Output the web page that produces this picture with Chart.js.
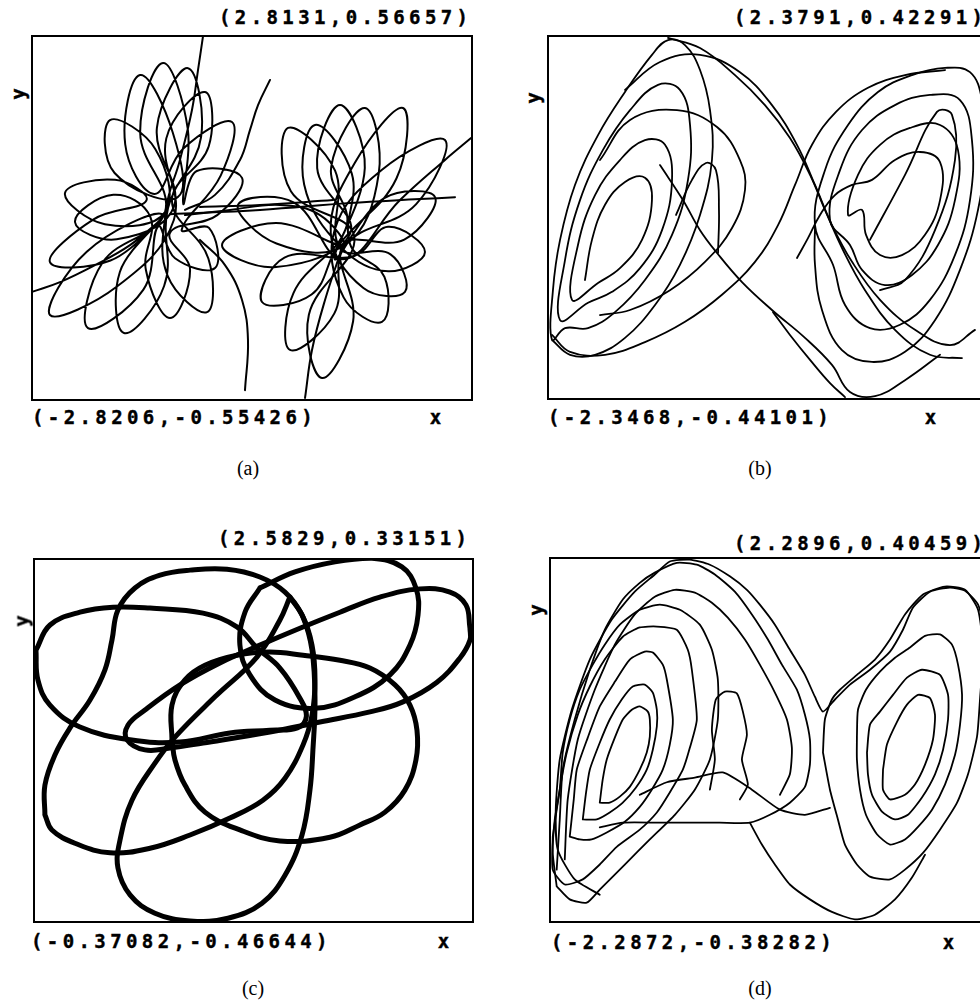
<!DOCTYPE html>
<html>
<head>
<meta charset="utf-8">
<script src="https://cdn.jsdelivr.net/npm/chart.js@4.4.1/dist/chart.umd.min.js"></script>
<style>
  html, body { margin: 0; padding: 0; background: #fff; }
  body { position: relative; width: 980px; height: 1002px; overflow: hidden; }
  canvas { position: absolute; }
  .corner, .axis {
    position: absolute; color: #000; white-space: nowrap;
    font: bold 19px "DejaVu Sans Mono", "Liberation Mono", monospace;
    line-height: 20px;
    -webkit-text-stroke: 0.4px #000;
  }
  .corner { letter-spacing: 4.4px; }
  .axis { width: 13px; text-align: center; }
  .ylab { transform: rotate(-90deg); }
  .cap {
    position: absolute; width: 40px; text-align: center; color: #000;
    font: 20px "Liberation Serif", "Times New Roman", serif; line-height: 20px;
  }
</style>
</head>
<body>

<canvas id="chartA" width="442" height="366" style="left:31px;top:35px"></canvas>
<canvas id="chartB" width="441" height="365" style="left:547px;top:35px"></canvas>
<canvas id="chartC" width="441" height="365" style="left:33px;top:558px"></canvas>
<canvas id="chartD" width="439" height="366" style="left:549px;top:557px"></canvas>

<div class="corner" id="topA" style="left:219px;top:7px"></div>
<div class="corner" id="botA" style="left:32px;top:407px"></div>
<div class="axis" style="left:429px;top:407px">x</div>
<div class="axis ylab" style="left:11px;top:84px">y</div>
<div class="cap" style="left:228px;top:458px">(a)</div>

<div class="corner" id="topB" style="left:734px;top:7px"></div>
<div class="corner" id="botB" style="left:548px;top:407px"></div>
<div class="axis" style="left:924px;top:407px">x</div>
<div class="axis ylab" style="left:526px;top:88px">y</div>
<div class="cap" style="left:740px;top:458px">(b)</div>

<div class="corner" id="topC" style="left:218px;top:528px"></div>
<div class="corner" id="botC" style="left:31px;top:931px"></div>
<div class="axis" style="left:437px;top:931px">x</div>
<div class="axis ylab" style="left:15px;top:611px">y</div>
<div class="cap" style="left:233px;top:978px">(c)</div>

<div class="corner" id="topD" style="left:734px;top:533px"></div>
<div class="corner" id="botD" style="left:551px;top:932px"></div>
<div class="axis" style="left:942px;top:932px">x</div>
<div class="axis ylab" style="left:529px;top:600px">y</div>
<div class="cap" style="left:740px;top:978px">(d)</div>

<script>
// axis extents: [xMin, xMax, yMin, yMax]
const rangeA = [-2.8206, 2.8131, -0.55426, 0.56657];
const rangeB = [-2.3468, 2.3791, -0.44101, 0.42291];
const rangeC = [-0.37082, 2.5829, -0.46644, 0.33151];
const rangeD = [-2.2872, 2.2896, -0.38282, 0.40459];

// (a) petal orbit around the left centre
const aLeftCluster = [
  [-2.808,-0.220],[-2.451,-0.190],[-2.005,-0.138],[-1.559,-0.077],[-1.176,0],
  [-1.808,-0.124],[-2.579,-0.129],[-2.023,0.002],[-1.350,0.060],
  [-1.749,0.123],[-2.387,0.083],[-1.879,-0.013],[-1.113,0.024],
  [-1.235,0.217],[-1.814,0.306],[-1.755,0.144],[-0.950,0.070],
  [-1.013,0.267],[-1.431,0.444],[-1.620,0.232],[-1.250,0.080],
  [-0.879,0.219],[-0.259,0.300],[-0.403,0.136],[-0.900,-0.030],
  [-0.552,-0.024],[-0.475,-0.147],[-0.985,-0.117],[-1.200,-0.020],
  [-1.388,-0.213],[-2.094,-0.331],[-1.908,-0.130],[-1.113,0.024],
  [-1.429,0.267],[-1.138,0.481],[-0.822,0.278],[-0.880,0.050],
  [-0.708,0.150],[-0.131,0.129],[-0.447,0.015],[-1.050,-0.040],
  [-0.793,-0.153],[-1.049,-0.300],[-1.356,-0.153],[-1.300,0.010],
  [-1.772,0.077],[-2.260,-0.006],[-1.728,-0.059],[-1.000,0.040],
  [-1.216,0.282],[-0.820,0.465],[-0.653,0.254],[-1.074,0.037],
  [-1.124,-0.202],[-1.635,-0.346],[-1.688,-0.159],[-1.151,0.018],
  [-2.110,-0.097],[-2.579,-0.291],[-1.721,-0.203],[-1.000,0.000],
  [-1.096,0.250],[-0.603,0.392],[-0.556,0.225],[-1.024,0.060],
  [-0.560,-0.118],[-0.577,-0.282],[-1.080,-0.170],[-1.100,0.031],
  [-0.922,0.184],[-0.769,0.337],[-0.692,0.459],[-0.628,0.563]
];
// (a) petal orbit around the right centre
const aRightCluster = [
  [-0.858,0.015],[-0.284,0.031],[0.353,0.046],[0.863,0.015],[1.156,-0.077],
  [0.302,-0.009],[-0.386,-0.077],[0.302,-0.144],[1.250,-0.040],
  [0.827,0.159],[1.118,0.352],[1.434,0.159],[1.050,-0.120],
  [1.676,0.066],[2.329,0.070],[1.937,-0.060],[1.156,-0.077],
  [1.285,-0.310],[0.888,-0.484],[0.721,-0.290],[1.300,-0.050],
  [0.492,0.088],[0.455,0.282],[1.055,0.151],[1.118,-0.086],
  [1.762,-0.105],[1.946,-0.220],[1.416,-0.208],[1.000,-0.040],
  [1.317,0.179],[1.921,0.343],[1.837,0.127],[1.092,-0.080],
  [0.755,-0.228],[0.124,-0.251],[0.410,-0.115],[1.300,-0.110],
  [1.730,-0.021],[2.201,-0.098],[1.730,-0.157],[1.143,-0.086],
  [0.661,0.109],[0.799,0.291],[1.268,0.142],[1.245,-0.073],
  [1.684,-0.174],[1.653,-0.312],[1.164,-0.237],[1.050,-0.030],
  [1.653,0.154],[2.456,0.245],[2.086,0.048],[1.182,-0.080],
  [1.046,-0.286],[0.481,-0.398],[0.526,-0.223],[1.200,-0.020],
  [1.006,0.163],[1.436,0.343],[1.612,0.143],[1.182,-0.077],
  [0.308,-0.072],[-0.182,0.046],[0.526,0.054],[1.156,-0.120],
  [1.883,0.061],[2.456,0.184],[2.788,0.251]
];
const aStubTop = [[0.226,0.429],[0.073,0.352],[-0.029,0.276],[-0.157,0.184],[-0.475,0.077],[-0.858,0.031]];
const aLongLine = [[-1.049,0.018],[0.098,0.031],[1.245,0.052],[2.138,0.064],[2.584,0.070]];
const aDropLeft = [[-0.667,-0.061],[-0.348,-0.138],[-0.131,-0.245],[-0.055,-0.367],[-0.093,-0.521]];
const aDropRight = [[1.156,-0.077],[0.927,-0.245],[0.761,-0.398],[0.672,-0.545]];
const aBridge = [[-0.667,0.040],[0.098,0.046],[1.029,0.061]];

// (b) left scroll, inner loop outwards
const bLeftLoops = [
  [-1.940,-0.157],[-1.865,-0.062],[-1.725,0.021],[-1.511,0.075],[-1.297,0.085],[-1.222,0.032],[-1.329,-0.062],[-1.565,-0.129],[-1.800,-0.164],
  [-2.079,-0.204],[-2.015,-0.074],[-1.832,0.044],[-1.565,0.127],[-1.297,0.174],[-1.082,0.163],[-1.007,0.080],[-1.114,-0.039],[-1.350,-0.129],[-1.650,-0.185],[-1.907,-0.211],
  [-2.207,-0.252],[-2.154,-0.110],[-1.993,0.032],[-1.747,0.151],[-1.457,0.245],[-1.157,0.305],[-0.922,0.293],[-0.814,0.210],[-0.836,0.080],[-1.007,-0.050],[-1.297,-0.157],[-1.618,-0.233],[-1.907,-0.271],[-2.154,-0.271],
  [-2.293,-0.299],[-2.283,-0.181],[-2.207,-0.062],[-2.047,0.068],[-1.800,0.186],[-1.511,0.288],[-1.222,0.376],[-1.050,0.411],[-0.868,0.399],[-0.707,0.340],[-0.600,0.245],[-0.579,0.127],[-0.707,-0.003],[-0.922,-0.121],[-1.189,-0.216],[-1.511,-0.294],[-1.832,-0.334],[-2.100,-0.334],[-2.293,-0.299]
];
const bBulge = [[-1.779,0.127],[-1.457,0.222],[-0.954,0.245],[-0.525,0.205],[-0.279,0.127],[-0.225,0.056],[-0.364,-0.034],[-0.654,-0.114],[-1.029,-0.181],[-1.457,-0.228],[-1.779,-0.240]];
// (b) right scroll, from the starting stub outwards
const bRightLoops = [
  [0.332,-0.105],[0.450,-0.058],[0.579,-0.003],[0.739,0.044],[0.922,0.068],
  [1.136,0.080],[1.382,0.127],[1.650,0.146],[1.865,0.122],[1.865,0.032],[1.704,-0.050],[1.457,-0.098],[1.222,-0.098],[1.072,-0.050],[1.029,0.009],
  [0.879,-0.003],[0.986,0.092],[1.222,0.163],[1.543,0.203],[1.865,0.210],[2.057,0.151],[2.025,0.032],[1.843,-0.074],[1.565,-0.145],[1.275,-0.169],[1.029,-0.133],[0.900,-0.074],
  [0.686,-0.015],[0.793,0.103],[1.029,0.198],[1.382,0.257],[1.757,0.281],[2.079,0.269],[2.207,0.174],[2.186,0.032],[2.025,-0.098],[1.757,-0.204],[1.436,-0.263],[1.114,-0.271],[0.847,-0.216],[0.718,-0.121],
  [0.525,-0.027],[0.632,0.103],[0.879,0.210],[1.200,0.288],[1.565,0.328],[1.918,0.345],[2.186,0.335],[2.315,0.269],[2.347,0.151],[2.272,0.009],[2.079,-0.133],[1.811,-0.252],[1.490,-0.327],[1.136,-0.351],[0.814,-0.323],[0.600,-0.228],[0.525,-0.121],[0.525,-0.027]
];
const bCrossTop = [[-1.050,0.416],[-0.707,0.392],[-0.332,0.328],[-0.011,0.257],[0.257,0.179],[0.472,0.092],[0.632,0.009],[0.825,-0.086],[1.061,-0.181],[1.382,-0.275],[1.757,-0.334],[2.100,-0.342]];
const bCrossTop2 = [[-1.511,0.293],[-1.136,0.359],[-0.707,0.376],[-0.279,0.335],[0.064,0.257],[0.332,0.163],[0.525,0.068],[0.707,-0.027],[0.922,-0.114],[1.222,-0.204],[1.597,-0.275],[1.972,-0.311],[2.240,-0.275]];
const bCrossBack = [[1.918,0.340],[1.490,0.328],[1.093,0.298],[0.750,0.241],[0.493,0.163],[0.311,0.068],[0.129,-0.027],[-0.118,-0.114],[-0.472,-0.192],[-0.868,-0.256],[-1.297,-0.304],[-1.725,-0.334],[-2.100,-0.327],[-2.293,-0.287]];
const bCrossLow = [[-1.136,0.115],[-0.889,0.032],[-0.707,-0.039],[-0.525,-0.093],[-0.257,-0.162],[0.064,-0.228],[0.418,-0.294],[0.707,-0.358],[0.900,-0.422],[1.168,-0.432],[1.490,-0.394],[1.865,-0.334]];
const bTail = [[0.075,-0.233],[0.257,-0.287],[0.472,-0.346],[0.686,-0.401],[0.847,-0.434]];
const bSpikeRight = [[1.114,-0.062],[1.490,0.092],[1.832,0.241],[1.993,0.234],[2.025,0.127],[1.811,-0.039],[1.490,-0.157],[1.222,-0.181]];
const bSpikeMid = [[-0.964,-0.003],[-0.793,0.080],[-0.643,0.120],[-0.536,0.103],[-0.504,0.009],[-0.514,-0.093]];

// (c) rosette bands
const cLeft = [[-0.351,0.130],[-0.257,0.185],[-0.056,0.213],[0.165,0.224],[0.413,0.222],[0.768,0.211],[0.995,0.181],[1.129,0.135],[1.283,0.091],[1.417,0.025],[1.460,-0.015],[1.400,-0.040],[1.216,-0.045],[0.948,-0.051],[0.614,-0.071],[0.279,-0.066],[-0.056,-0.038],[-0.257,0.010],[-0.338,0.065],[-0.351,0.130]];
const cBig = [[-0.291,-0.230],[-0.291,-0.165],[-0.224,-0.099],[-0.123,-0.040],[0.011,0.021],[0.111,0.087],[0.158,0.152],[0.198,0.218],[0.312,0.266],[0.480,0.294],[0.681,0.305],[0.928,0.307],[1.149,0.290],[1.317,0.257],[1.431,0.207],[1.498,0.141],[1.518,0.065],[1.498,-0.012],[1.438,-0.077],[1.317,-0.150],[1.169,-0.198],[0.948,-0.237],[0.681,-0.274],[0.413,-0.303],[0.145,-0.313],[-0.090,-0.292],[-0.244,-0.263],[-0.291,-0.230]];
const cBottom = [[1.350,0.246],[1.438,0.202],[1.498,0.130],[1.518,0.021],[1.504,-0.088],[1.484,-0.176],[1.431,-0.274],[1.317,-0.362],[1.163,-0.423],[0.935,-0.456],[0.681,-0.462],[0.446,-0.445],[0.279,-0.405],[0.198,-0.346],[0.212,-0.285],[0.292,-0.198],[0.446,-0.117],[0.580,-0.060],[0.848,0.028],[1.129,0.115],[1.283,0.196],[1.350,0.246]];
const cLowerRight = [[0.560,-0.066],[0.560,0.010],[0.647,0.065],[0.781,0.097],[0.995,0.119],[1.216,0.126],[1.438,0.119],[1.685,0.108],[1.886,0.091],[2.054,0.054],[2.154,0.010],[2.201,-0.045],[2.194,-0.110],[2.120,-0.176],[1.987,-0.224],[1.819,-0.252],[1.618,-0.279],[1.283,-0.287],[1.015,-0.263],[0.781,-0.224],[0.647,-0.165],[0.580,-0.110],[0.560,-0.066]];
const cTopRight = [[1.149,0.266],[1.384,0.301],[1.652,0.323],[1.900,0.331],[2.100,0.312],[2.194,0.266],[2.208,0.207],[2.154,0.141],[2.020,0.076],[1.786,0.028],[1.518,0.003],[1.250,0.021],[1.082,0.076],[1.015,0.141],[1.049,0.213],[1.149,0.266]];
const cLong = [[2.556,0.178],[2.529,0.229],[2.422,0.257],[2.221,0.264],[1.953,0.246],[1.685,0.213],[1.417,0.178],[1.149,0.141],[0.881,0.102],[0.614,0.054],[0.379,-0.001],[0.265,-0.034],[0.259,-0.066],[0.379,-0.088],[0.547,-0.084],[0.768,-0.073],[1.216,-0.049],[1.551,-0.027],[1.886,-0.005],[2.107,0.017],[2.335,0.060],[2.489,0.113],[2.556,0.152],[2.556,0.178]];

// (d) left scroll rings
const dLeftOuter = [[-2.207,-0.304],[-2.248,-0.232],[-2.227,-0.160],[-2.175,-0.096],[-2.144,-0.016],[-2.071,0.055],[-1.967,0.119],[-1.831,0.173],[-1.706,0.216],[-1.549,0.259],[-1.341,0.291],[-1.132,0.302],[-0.923,0.291],[-0.715,0.259],[-0.589,0.205],[-0.527,0.141],[-0.527,0.055],[-0.610,-0.031],[-0.767,-0.096],[-0.975,-0.150],[-1.236,-0.203],[-1.497,-0.257],[-1.758,-0.311],[-1.894,-0.339],[-2.071,-0.332],[-2.207,-0.304]];
const dLeftRing1 = [[-2.248,-0.197],[-2.175,-0.096],[-2.102,-0.016],[-1.987,0.065],[-1.862,0.126],[-1.706,0.184],[-1.518,0.233],[-1.341,0.253],[-1.163,0.255],[-0.955,0.248],[-0.840,0.205],[-0.798,0.162],[-0.746,0.055],[-0.819,-0.006],[-0.892,-0.053],[-1.028,-0.102],[-1.163,-0.145],[-1.341,-0.182],[-1.581,-0.219],[-1.758,-0.257],[-1.935,-0.289],[-2.123,-0.300],[-2.248,-0.268],[-2.248,-0.197]];
const dLeftRing2 = [[-2.071,-0.197],[-2.029,-0.117],[-1.998,-0.053],[-1.883,0.016],[-1.758,0.083],[-1.601,0.136],[-1.445,0.184],[-1.289,0.201],[-1.205,0.199],[-1.101,0.173],[-1.059,0.141],[-0.996,0.055],[-1.028,0.001],[-1.101,-0.053],[-1.216,-0.096],[-1.341,-0.133],[-1.497,-0.165],[-1.685,-0.188],[-1.842,-0.203],[-1.967,-0.203],[-2.071,-0.197]];
const dLeftRing3 = [[-1.935,-0.160],[-1.904,-0.107],[-1.862,-0.053],[-1.758,0.005],[-1.654,0.055],[-1.529,0.098],[-1.414,0.126],[-1.289,0.130],[-1.205,0.113],[-1.163,0.076],[-1.163,0.040],[-1.205,-0.010],[-1.268,-0.053],[-1.382,-0.092],[-1.518,-0.124],[-1.654,-0.145],[-1.789,-0.160],[-1.935,-0.160]];
const dLeftRing4 = [[-1.758,-0.124],[-1.727,-0.074],[-1.685,-0.031],[-1.601,0.016],[-1.518,0.055],[-1.424,0.076],[-1.341,0.083],[-1.257,0.072],[-1.236,0.055],[-1.236,0.018],[-1.268,-0.016],[-1.341,-0.053],[-1.445,-0.090],[-1.549,-0.111],[-1.654,-0.124],[-1.758,-0.124]];
// (d) arches over the left scroll
const dArch1 = [[-2.207,-0.268],[-2.175,-0.160],[-2.144,-0.053],[-2.019,0.055],[-1.862,0.162],[-1.706,0.248],[-1.518,0.313],[-1.341,0.349],[-1.184,0.371],[-0.955,0.392],[-0.746,0.388],[-0.558,0.367],[-0.350,0.330],[-0.172,0.281],[-0.005,0.227],[0.141,0.173],[0.297,0.119],[0.381,0.065],[0.433,0.012],[0.433,-0.042],[0.381,-0.090],[0.224,-0.124],[0.016,-0.150],[-0.193,-0.167],[-0.506,-0.167],[-0.819,-0.167],[-1.132,-0.167],[-1.518,-0.167],[-1.758,-0.177]];
const dArch2 = [[-1.758,-0.322],[-2.019,-0.289],[-2.196,-0.225],[-2.217,-0.139],[-2.175,-0.031],[-2.050,0.076],[-1.862,0.184],[-1.633,0.270],[-1.393,0.330],[-1.184,0.367],[-1.028,0.395],[-0.819,0.399],[-0.610,0.388],[-0.402,0.363],[-0.224,0.334],[-0.089,0.302],[0.068,0.259],[0.224,0.205],[0.381,0.151],[0.485,0.104],[0.569,0.072],[0.694,0.098],[0.850,0.130],[1.059,0.162],[1.268,0.201],[1.403,0.248],[1.508,0.296],[1.685,0.330],[1.893,0.339],[2.050,0.332],[2.186,0.302],[2.259,0.248]];
const dArch3 = [[-2.123,-0.246],[-2.092,-0.117],[-1.987,0.012],[-1.810,0.119],[-1.601,0.216],[-1.393,0.281],[-1.184,0.319],[-0.975,0.334],[-0.767,0.328],[-0.589,0.306],[-0.423,0.274],[-0.245,0.227],[-0.089,0.173],[0.068,0.113],[0.193,0.055],[0.245,-0.006],[0.224,-0.063],[0.120,-0.107]];
// (d) right scroll rings
const dRightRing1 = [[0.569,-0.016],[0.589,0.055],[0.662,0.098],[0.746,0.119],[0.923,0.151],[1.111,0.184],[1.268,0.227],[1.424,0.281],[1.612,0.324],[1.841,0.341],[2.050,0.334],[2.186,0.291],[2.238,0.205],[2.206,0.098],[2.175,0.018],[2.081,-0.063],[1.967,-0.124],[1.789,-0.182],[1.612,-0.232],[1.424,-0.268],[1.268,-0.289],[1.059,-0.283],[0.923,-0.257],[0.798,-0.214],[0.725,-0.160],[0.642,-0.096],[0.569,-0.016]];
const dRightRing2 = [[0.923,0.018],[0.934,0.076],[1.017,0.119],[1.163,0.158],[1.320,0.188],[1.476,0.210],[1.633,0.235],[1.789,0.238],[1.914,0.216],[1.977,0.173],[2.019,0.108],[1.998,0.044],[1.946,-0.021],[1.841,-0.085],[1.706,-0.139],[1.560,-0.176],[1.424,-0.203],[1.268,-0.214],[1.132,-0.192],[1.017,-0.150],[0.955,-0.096],[0.923,-0.031],[0.923,0.018]];
const dRightRing3 = [[1.028,-0.016],[1.059,0.044],[1.163,0.072],[1.299,0.108],[1.445,0.145],[1.601,0.162],[1.789,0.151],[1.873,0.108],[1.873,0.055],[1.821,-0.010],[1.737,-0.063],[1.601,-0.113],[1.455,-0.150],[1.320,-0.160],[1.184,-0.143],[1.080,-0.107],[1.038,-0.063],[1.028,-0.016]];
const dRightRing4 = [[1.195,-0.053],[1.236,0.001],[1.341,0.050],[1.445,0.087],[1.560,0.108],[1.685,0.101],[1.737,0.065],[1.716,0.012],[1.633,-0.042],[1.528,-0.085],[1.424,-0.107],[1.268,-0.117],[1.195,-0.096],[1.195,-0.053]];
const dMidLoop = [[-0.610,-0.096],[-0.558,-0.031],[-0.589,0.033],[-0.548,0.098],[-0.454,0.115],[-0.329,0.111],[-0.266,0.072],[-0.224,0.022],[-0.276,-0.031],[-0.214,-0.085],[-0.297,-0.117]];
const dBottomArc = [[-0.193,-0.167],[-0.068,-0.214],[0.068,-0.257],[0.224,-0.300],[0.433,-0.332],[0.662,-0.359],[0.902,-0.375],[1.111,-0.365],[1.320,-0.332],[1.497,-0.285],[1.633,-0.236]];
const dLink = [[-1.341,-0.107],[-1.059,-0.080],[-0.767,-0.070],[-0.475,-0.059],[-0.172,-0.096],[0.120,-0.139],[0.381,-0.150],[0.642,-0.135]];

// black frame round the plot area
const frame = {
  id: 'frame',
  afterDraw(chart) {
    const { ctx, chartArea: a } = chart;
    ctx.save();
    ctx.strokeStyle = '#000';
    ctx.lineWidth = 2;
    ctx.strokeRect(a.left + 1, a.top + 1, a.width - 2, a.height - 2);
    ctx.restore();
  }
};

function drawPanel(canvasId, range, paths, lineWidth, tension) {
  const ctx = document.getElementById(canvasId).getContext('2d');
  return new Chart(ctx, {
    type: 'scatter',
    data: {
      datasets: paths.map(p => ({
        data: p.map(([x, y]) => ({ x: x, y: y })),
        showLine: true,
        fill: false,
        borderColor: '#000',
        borderWidth: lineWidth,
        borderJoinStyle: 'round',
        borderCapStyle: 'round',
        pointRadius: 0,
        tension: tension
      }))
    },
    options: {
      responsive: false,
      animation: false,
      events: [],
      layout: { padding: 0 },
      plugins: { legend: { display: false }, tooltip: { enabled: false } },
      scales: {
        x: { type: 'linear', min: range[0], max: range[1], display: false },
        y: { type: 'linear', min: range[2], max: range[3], display: false }
      }
    },
    plugins: [frame]
  });
}

drawPanel('chartA', rangeA, [aLeftCluster, aRightCluster, aStubTop, aLongLine, aDropLeft, aDropRight, aBridge], 2, 0.4);
drawPanel('chartB', rangeB, [bLeftLoops, bBulge, bRightLoops, bCrossTop, bCrossTop2, bCrossBack, bCrossLow, bTail, bSpikeRight, bSpikeMid], 1.8, 0.4);
drawPanel('chartC', rangeC, [cLeft, cBig, cBottom, cLowerRight, cTopRight, cLong], 5, 0.4);
drawPanel('chartD', rangeD, [dLeftOuter, dLeftRing1, dLeftRing2, dLeftRing3, dLeftRing4, dArch1, dArch2, dArch3,
  dRightRing1, dRightRing2, dRightRing3, dRightRing4, dMidLoop, dBottomArc, dLink], 1.8, 0.2);

// corner labels give the plotted window
function corner(id, x, y) {
  document.getElementById(id).textContent = '(' + x + ',' + y + ')';
}
corner('topA', rangeA[1], rangeA[3]); corner('botA', rangeA[0], rangeA[2]);
corner('topB', rangeB[1], rangeB[3]); corner('botB', rangeB[0], rangeB[2]);
corner('topC', rangeC[1], rangeC[3]); corner('botC', rangeC[0], rangeC[2]);
corner('topD', rangeD[1], rangeD[3]); corner('botD', rangeD[0], rangeD[2]);
</script>
</body>
</html>
